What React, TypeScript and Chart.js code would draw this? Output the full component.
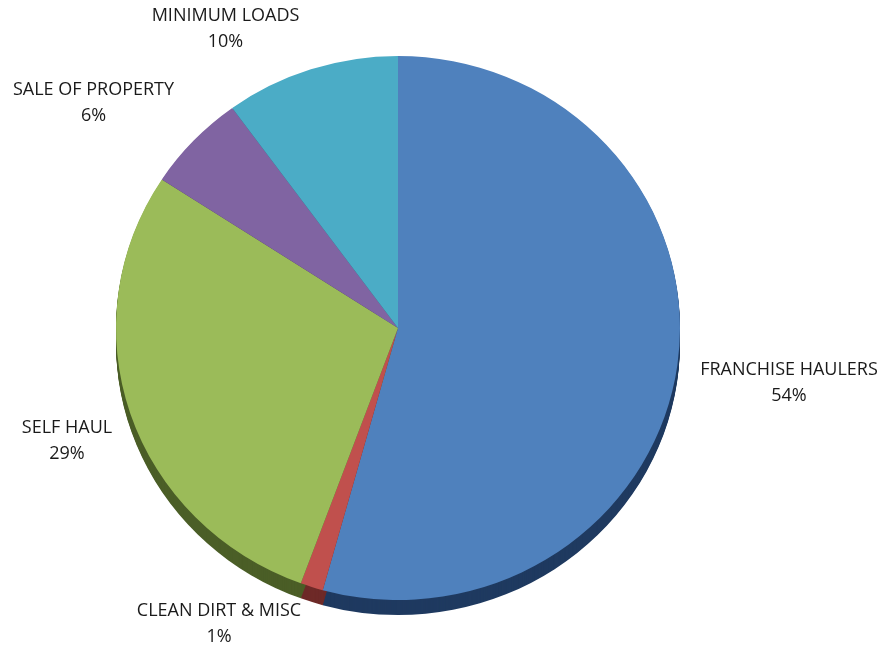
import React, { useEffect, useRef } from "react";
import { Chart, registerables } from "chart.js";

Chart.register(...registerables);

// ---- data ----
const categories = [
  "FRANCHISE HAULERS",
  "CLEAN DIRT & MISC",
  "SELF HAUL",
  "SALE OF PROPERTY",
  "MINIMUM LOADS",
];
const shares = [54.3, 1.3, 28.6, 5.8, 10.0];

// ---- style ----
const faceColors = ["#4F81BD", "#C0504D", "#9BBB59", "#8064A2", "#4BACC6"];
const sideColors = ["#1F3A60", "#6E2A28", "#4B5E27", "#46365A", "#2A6272"];

// ---- layout ----
const W = 885;
const H = 648;
const CX = 398;
const CY = 328;
const RX = 282;
const RY = 272;
const DEPTH = 15;
// label anchors: centre x, first-line centre y
const labelAnchors: [number, number][] = [
  [789, 370],
  [219, 611],
  [67, 428],
  [93.5, 90],
  [225.5, 16],
];
const LINE_GAP = 26;
const FONT = '18px "Open Sans", "Liberation Sans", sans-serif';

const pie3d = {
  id: "pie3d",
  beforeDatasetsDraw(chart: any) {
    const ctx: CanvasRenderingContext2D = chart.ctx;
    const meta = chart.getDatasetMeta(0);
    const s = RY / RX;
    const cy = meta.data[0].y;
    ctx.save();
    ctx.translate(0, cy);
    ctx.scale(1, s);
    ctx.translate(0, -cy);
    meta.data.forEach((arc: any, i: number) => {
      const { x, y, startAngle, endAngle, outerRadius } = arc.getProps(
        ["x", "y", "startAngle", "endAngle", "outerRadius"],
        true
      );
      for (let d = DEPTH; d >= 1; d--) {
        const off = d / s;
        ctx.beginPath();
        ctx.moveTo(x, y + off);
        ctx.arc(x, y + off, outerRadius, startAngle, endAngle);
        ctx.closePath();
        ctx.fillStyle = sideColors[i];
        ctx.fill();
      }
    });
    ctx.restore();
    // squash the face drawn by the library into an ellipse
    ctx.save();
    ctx.translate(0, cy);
    ctx.scale(1, s);
    ctx.translate(0, -cy);
  },
  afterDatasetsDraw(chart: any) {
    const ctx: CanvasRenderingContext2D = chart.ctx;
    ctx.restore();
    ctx.save();
    ctx.font = FONT;
    ctx.fillStyle = "#1a1a1a";
    ctx.textAlign = "center";
    ctx.textBaseline = "middle";
    categories.forEach((name, i) => {
      const [lx, ly] = labelAnchors[i];
      ctx.fillText(name, lx, ly);
      ctx.fillText(`${Math.round(shares[i])}%`, lx, ly + LINE_GAP);
    });
    ctx.restore();
  },
};

export default function App() {
  const ref = useRef<HTMLCanvasElement | null>(null);
  useEffect(() => {
    document.body.style.margin = "0";
    const canvas = ref.current;
    if (!canvas) return;
    const chart = new Chart(canvas, {
      type: "pie",
      data: {
        labels: categories,
        datasets: [
          {
            data: shares,
            backgroundColor: faceColors,
            borderWidth: 0,
          },
        ],
      },
      options: {
        animation: false,
        responsive: true,
        maintainAspectRatio: false,
        layout: {
          padding: {
            left: CX - RX,
            top: CY - RX,
            right: W - (CX + RX),
            bottom: H - (CY + RX),
          },
        },
        plugins: {
          legend: { display: false },
          tooltip: { enabled: false },
        },
      },
      plugins: [pie3d],
    });
    return () => chart.destroy();
  }, []);
  return (
    <div
      style={{
        position: "absolute",
        left: 0,
        top: 0,
        width: W,
        height: H,
        background: "#fff",
      }}
    >
      <canvas ref={ref} />
    </div>
  );
}
